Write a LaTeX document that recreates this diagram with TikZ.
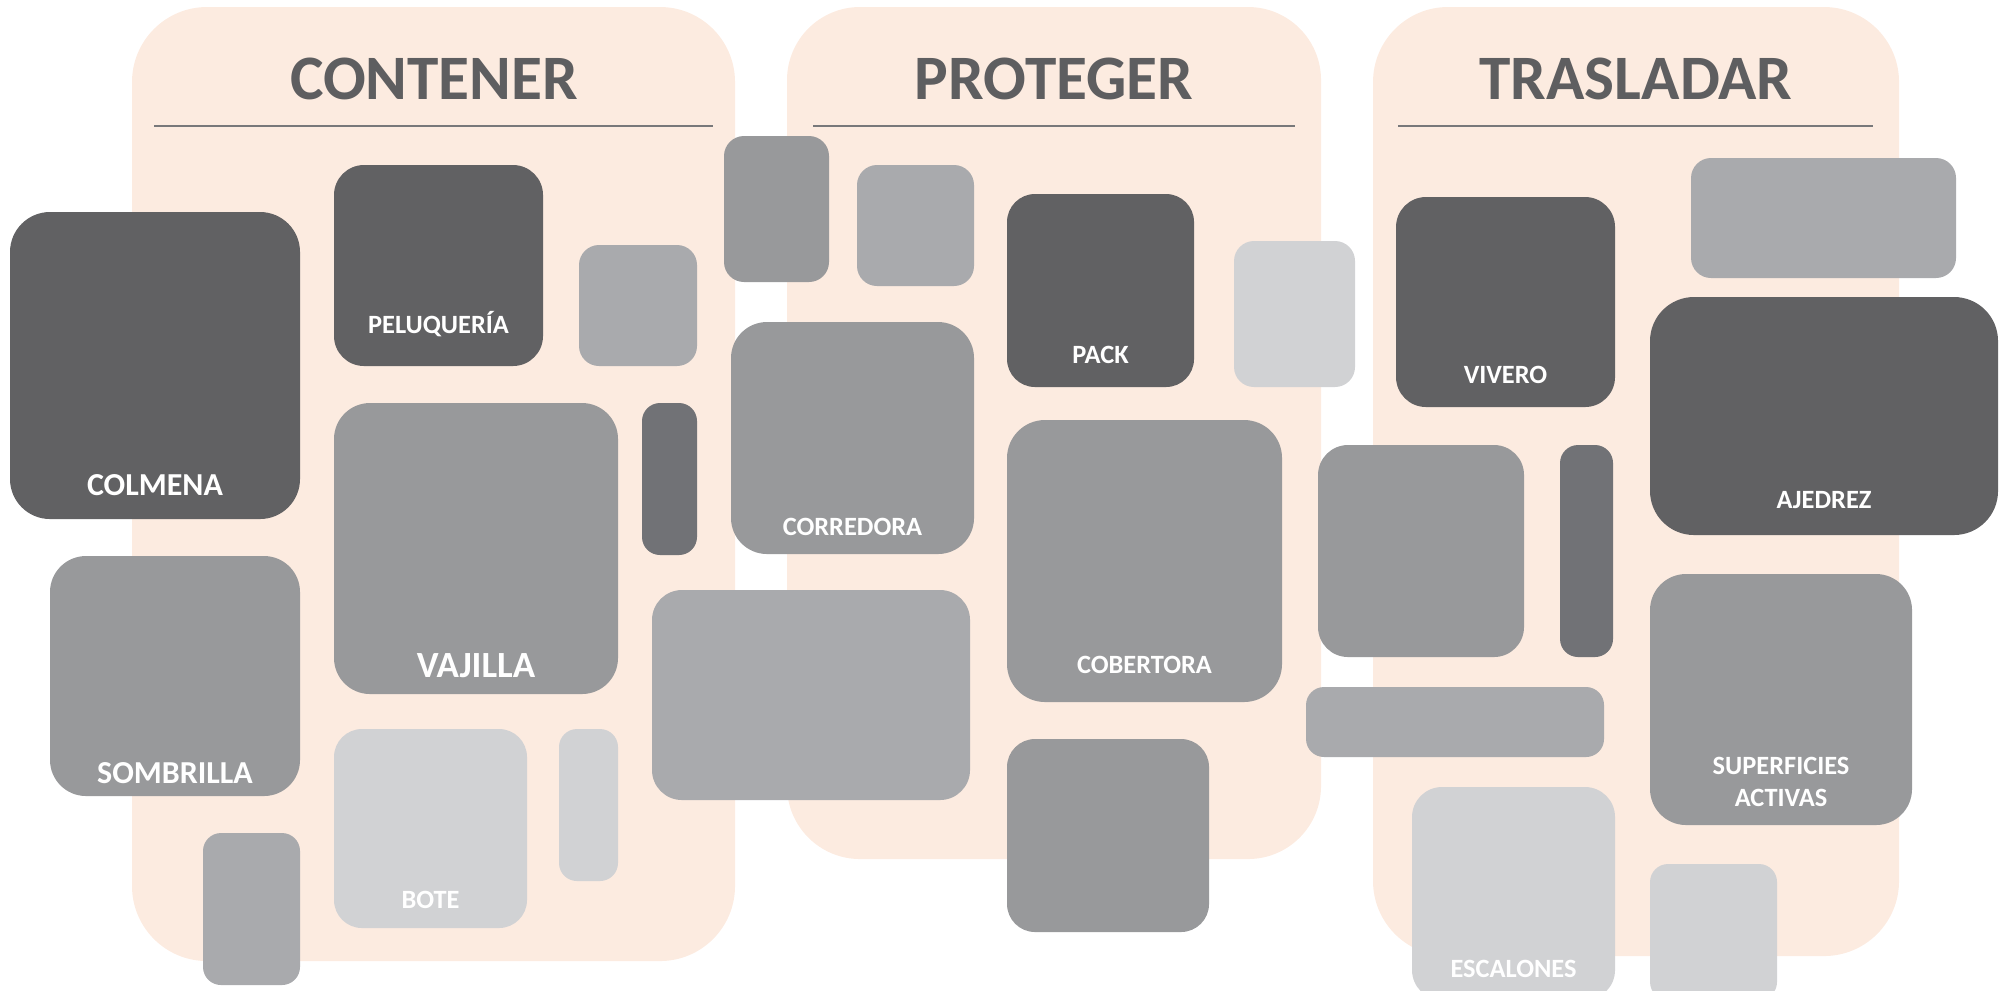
\documentclass[tikz,border=0pt]{standalone}
\usepackage{fontspec}
\setmainfont{Carlito}
\definecolor{peach}{RGB}{252,235,224}
\definecolor{cdark}{RGB}{97,97,99}
\definecolor{cmid}{RGB}{152,153,155}
\definecolor{clmid}{RGB}{169,170,173}
\definecolor{clight}{RGB}{209,210,212}
\definecolor{cdmid}{RGB}{113,114,118}
\definecolor{ctitle}{RGB}{94,94,96}
\definecolor{cline}{RGB}{120,120,122}
\newcommand\mybox[7]{%
  \pgfmathsetmacro\bw{(#4-#2)*0.01}%
  \pgfmathsetmacro\bh{(#5-#3)*0.01}%
  \node[bx, fill=#6, rounded corners=#7, minimum width=\bw cm, minimum height=\bh cm, anchor=north west] (#1) at (#2,#3) {};}
\begin{document}
\begin{tikzpicture}[x=0.01cm, y=-0.01cm,
  bx/.style={inner sep=0pt, outer sep=0pt, draw=none},
  panel/.style={bx},
  ttl/.style={text=ctitle, font=\fontsize{18}{20}\selectfont\bfseries, anchor=base, inner sep=0pt},
  lbl/.style={text=white, font=\fontsize{7.5}{9}\selectfont\bfseries, anchor=base, inner sep=0pt},
  lblbig/.style={lbl, font=\fontsize{9.1}{11}\selectfont\bfseries},
  sep/.style={draw=cline, line width=0.5pt}]
\useasboundingbox (0,0) rectangle (2004,990);
% panels
\mybox{pC}{132}{7}{735}{961}{peach}{0.75cm}
\mybox{pP}{787}{7}{1321}{859}{peach}{0.73cm}
\mybox{pT}{1373}{7}{1899}{956}{peach}{0.75cm}
% titles and rules
\node[ttl] (tC) at (434,99) {CONTENER};
\node[ttl] (tP) at (1054,99) {PROTEGER};
\node[ttl] (tT) at (1636,99) {TRASLADAR};
\coordinate (lC1) at (154,126); \coordinate (lC2) at (713,126);
\coordinate (lP1) at (813,126); \coordinate (lP2) at (1295,126);
\coordinate (lT1) at (1398,126); \coordinate (lT2) at (1873,126);
\draw[sep] (lC1) -- (lC2);
\draw[sep] (lP1) -- (lP2);
\draw[sep] (lT1) -- (lT2);
% CONTENER boxes
\mybox{colmena}{10}{212}{300}{519}{cdark}{0.4cm}
\mybox{peluq}{334}{165}{543}{366}{cdark}{0.3cm}
\mybox{c3}{579}{245}{697}{366}{clmid}{0.2cm}
\mybox{vajilla}{334}{403}{618}{694}{cmid}{0.36cm}
\mybox{c5}{642}{403}{697}{555}{cdmid}{0.18cm}
\mybox{sombrilla}{50}{556}{300}{796}{cmid}{0.36cm}
\mybox{bote}{334}{729}{527}{928}{clight}{0.28cm}
\mybox{c8}{559}{729}{618}{881}{clight}{0.18cm}
\mybox{c9}{203}{833}{300}{985}{clmid}{0.18cm}
% PROTEGER boxes
\mybox{p1}{724}{136}{829}{282}{cmid}{0.2cm}
\mybox{p2}{857}{165}{974}{286}{clmid}{0.2cm}
\mybox{pack}{1007}{194}{1194}{387}{cdark}{0.28cm}
\mybox{p4}{1234}{241}{1355}{387}{clight}{0.2cm}
\mybox{corredora}{731}{322}{974}{554}{cmid}{0.36cm}
\mybox{p6}{652}{590}{970}{800}{clmid}{0.3cm}
\mybox{cobertora}{1007}{420}{1282}{702}{cmid}{0.38cm}
\mybox{p8}{1007}{739}{1209}{932}{cmid}{0.28cm}
% TRASLADAR boxes
\mybox{t1}{1318}{445}{1524}{657}{cmid}{0.3cm}
\mybox{t2}{1560}{445}{1613}{657}{cdmid}{0.18cm}
\mybox{t3}{1306}{687}{1604}{757}{clmid}{0.18cm}
\mybox{vivero}{1396}{197}{1615}{407}{cdark}{0.3cm}
\mybox{t5}{1691}{158}{1956}{278}{clmid}{0.2cm}
\mybox{ajedrez}{1650}{297}{1998}{535}{cdark}{0.44cm}
\mybox{superf}{1650}{574}{1912}{825}{cmid}{0.36cm}
\mybox{escalones}{1412}{787}{1615}{1000}{clight}{0.3cm}
\mybox{t9}{1650}{864}{1777}{1000}{clight}{0.18cm}
% labels
\node[lblbig] (colmenaL) at (155,495) {COLMENA};
\node[lbl] (peluqL) at (438.5,333) {PELUQUERÍA};
\node[lbl, font=\fontsize{10.5}{12}\selectfont\bfseries] (vajillaL) at (476,677) {VAJILLA};
\node[lblbig] (sombrillaL) at (175,783) {SOMBRILLA};
\node[lbl] (boteL) at (430.5,908) {BOTE};
\node[lbl] (packL) at (1100.5,363) {PACK};
\node[lbl] (corredoraL) at (852.5,535) {CORREDORA};
\node[lbl] (cobertoraL) at (1144.5,673) {COBERTORA};
\node[lbl] (viveroL) at (1505.5,383) {VIVERO};
\node[lbl] (ajedrezL) at (1824,508) {AJEDREZ};
\node[lbl] (superfL1) at (1781,774) {SUPERFICIES};
\node[lbl] (superfL2) at (1781,806) {ACTIVAS};
\node[lbl] (escalonesL) at (1513.5,977) {ESCALONES};
\end{tikzpicture}
\end{document}
